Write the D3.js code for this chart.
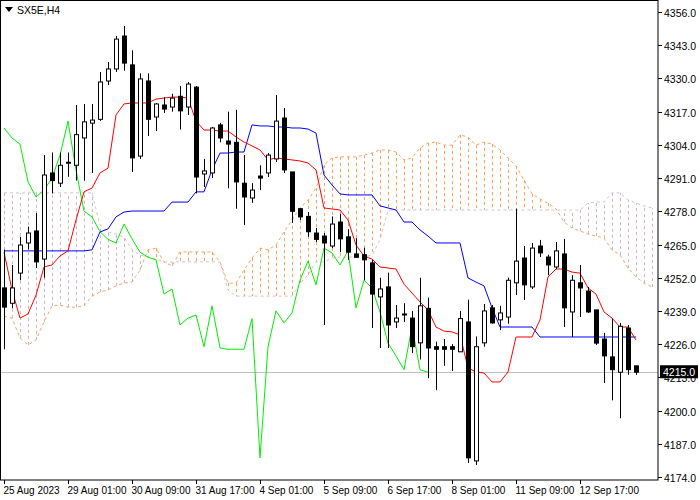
<!DOCTYPE html>
<html><head><meta charset="utf-8">
<script src="https://cdn.jsdelivr.net/npm/d3@7"></script>
<style>body{margin:0;background:#fff}svg{display:block}</style>
</head><body>
<script>
const opens=[4248,4242,4253.8,4265.6,4270.3,4259.3,4293,4289,4297,4296,4306.7,4312.5,4314,4329,4333.7,4346.6,4335.3,4299.6,4329,4314.9,4319.6,4318.8,4323,4318.8,4326.6,4292.6,4293,4311.8,4305.5,4305,4289,4283.2,4291.8,4293,4298.5,4314.5,4293.4,4279,4276,4269.5,4268.3,4264.4,4273.8,4268,4261.3,4261,4257.8,4244.5,4248.4,4234.7,4237.8,4236.2,4226.5,4240,4225,4225,4225,4223,4234.7,4180.3,4226.5,4240.2,4235.5,4236.6,4250,4259.7,4248.4,4264.4,4260.1,4256.2,4261.3,4238.6,4250,4246.8,4239.4,4228,4221,4215,4232.3,4217.5];
const closes=[4240.5,4248,4264.8,4269.5,4258.2,4292.2,4290,4296,4297.2,4308,4313,4313.7,4328.6,4333.7,4345.4,4336,4298.9,4329.8,4314,4320,4318,4322.3,4317.3,4327.8,4291.4,4293.8,4310.6,4306.7,4304.3,4289.5,4283.6,4286.3,4291,4300,4313.3,4294.2,4278,4275.8,4270,4267,4265.6,4273,4267.2,4262,4260,4259,4245.6,4247.6,4233.5,4236.2,4237.4,4225,4241,4224.5,4224,4224,4224,4236,4181.5,4225,4239,4234.3,4238.2,4251,4258.5,4249.2,4263.6,4261.7,4257,4262.5,4240.2,4251,4248,4238.6,4226.4,4221.4,4216,4233,4216,4215];
const highs=[4263,4257,4268,4272,4277.3,4300,4301,4301,4301,4319.6,4320,4320,4332.5,4336.4,4346.6,4350.5,4341,4332,4332,4320.4,4322.7,4324,4327,4328.6,4327,4298.5,4311,4312.6,4317,4317.7,4300,4289,4296,4300.8,4323.5,4318.4,4293.4,4279.3,4277.7,4271.5,4269.5,4276,4277,4271,4267.5,4263.7,4259,4252,4254,4241.3,4242,4239,4252,4244.2,4227,4228,4226,4239,4243.4,4229,4241.7,4241.3,4241,4252,4279,4264.4,4265.6,4266.8,4261,4266,4267.2,4253,4257,4248.4,4239.4,4230.4,4236,4234.3,4233.5,4217.5];
const lows=[4224,4240,4251,4263,4255.8,4252,4285,4287.5,4291.5,4290,4290,4293,4313.4,4327.4,4332.5,4333,4293.4,4298.5,4307.5,4309.4,4316.5,4317,4310,4315.7,4285,4287.5,4291,4305,4287,4279,4272.6,4281.3,4286.3,4291.4,4297.3,4293,4273.4,4274.6,4268,4266,4233.5,4263.6,4262,4259,4259.7,4251,4232.3,4224.5,4224.5,4232.3,4234.7,4222.5,4220,4212.7,4208,4217.5,4215.5,4223,4179.5,4178.7,4225,4234,4231.5,4234,4245.2,4243.3,4247.6,4260.1,4253,4255.4,4232.7,4228.8,4236.6,4238.2,4225.7,4210.8,4204,4197,4214,4214];
const tenkan=[4262.1,4247.2,4236.2,4237.8,4245.2,4256.2,4257.0,4260.5,4262.5,4274.6,4285.6,4287.1,4293.0,4294.9,4315.7,4320.0,4320.4,4320.4,4320.4,4321.9,4322.3,4322.7,4322.7,4322.3,4313.3,4309.8,4309.8,4309.4,4309.4,4307.1,4305.1,4303.6,4302.0,4298.1,4298.9,4298.5,4298.1,4297.7,4296.9,4294.2,4279.3,4278.9,4278.5,4274.6,4264.8,4260.5,4259.3,4256.2,4255.8,4255.4,4249.5,4246.0,4242.5,4239.4,4232.7,4231.1,4230.8,4229.6,4216.7,4215.1,4214.7,4211.2,4211.2,4215.1,4228.8,4228.8,4228.8,4235.5,4252.3,4255.4,4255.4,4254.2,4253.8,4248.0,4245.6,4238.6,4236.2,4232.7,4232.7,4227.6];
const kijun=[4262.5,4262.5,4262.5,4262.5,4262.5,4262.5,4262.5,4262.5,4262.5,4262.5,4262.5,4262.9,4269.9,4271.1,4275.8,4277.7,4278.1,4278.1,4278.1,4278.1,4278.1,4281.6,4281.6,4281.6,4285.6,4285.6,4294.2,4300.8,4300.8,4301.2,4301.2,4311.8,4311.4,4311.4,4311.0,4311.0,4310.6,4310.6,4310.2,4308.6,4292.2,4288.3,4284.8,4284.4,4284.4,4284.4,4284.4,4280.1,4279.3,4278.5,4273.8,4273.8,4270.7,4268.3,4265.6,4265.6,4265.6,4265.6,4251.9,4250.3,4248.8,4240.2,4232.7,4232.7,4232.7,4232.7,4232.7,4228.8,4228.8,4228.8,4228.8,4228.8,4228.8,4228.8,4228.8,4228.8,4228.8,4228.8,4228.8,4228.8];
const spanA=[4237.0,4236.2,4228.4,4225.7,4227.6,4234.7,4241.0,4241.3,4240.5,4240.5,4241.0,4244.8,4246.4,4247.2,4248.8,4249.9,4250.3,4255.0,4262.9,4263.6,4258.2,4256.6,4262.1,4262.1,4262.1,4262.1,4262.1,4258.2,4249.9,4249.9,4255.0,4259.7,4263.6,4262.9,4264.8,4269.9,4274.6,4279.3,4282.4,4287.1,4296.1,4298.9,4299.3,4299.3,4299.3,4300.0,4300.8,4302.0,4302.0,4301.2,4298.1,4298.9,4302.8,4304.7,4305.1,4303.9,4303.9,4307.9,4307.1,4303.9,4305.1,4304.3,4302.0,4298.9,4295.7,4290.2,4284.8,4282.8,4281.2,4278.9,4273.8,4271.5,4270.3,4269.1,4268.3,4267.5,4262.9,4260.9,4255.8,4252.3,4249.9,4248.4];
const spanB=[4285.2,4285.2,4285.2,4285.2,4285.2,4285.2,4285.2,4285.2,4285.2,4285.2,4285.2,4285.2,4272.6,4269.9,4269.1,4267.9,4262.9,4260.9,4260.1,4259.3,4258.2,4258.2,4258.2,4258.2,4258.2,4258.2,4258.2,4258.2,4247.2,4244.8,4244.8,4244.8,4244.8,4244.8,4244.8,4244.8,4244.8,4249.9,4253.1,4258.2,4258.2,4259.7,4260.1,4260.1,4260.1,4260.1,4260.9,4266.8,4278.5,4278.5,4278.5,4278.5,4278.5,4278.5,4278.5,4278.5,4278.5,4278.5,4278.5,4278.5,4278.5,4278.5,4278.5,4278.5,4278.5,4278.5,4278.5,4278.5,4278.5,4278.5,4278.5,4278.5,4278.5,4281.2,4281.6,4281.6,4285.2,4285.2,4282.4,4281.2,4280.1,4279.3];
const chikouShift=26;
const priceTicks=[4356,4343,4330,4317,4304,4291,4278,4265,4252,4239,4226,4213,4200,4187,4174];
const timeLabels=["25 Aug 2023","29 Aug 01:00","30 Aug 09:00","31 Aug 17:00","4 Sep 01:00","5 Sep 09:00","6 Sep 17:00","8 Sep 01:00","11 Sep 09:00","12 Sep 17:00"];
const lastPrice=4215.0;

const W=700,H=500,PR=658,PB=480;
const svg=d3.select("body").append("svg").attr("width",W).attr("height",H)
  .style("font-family","'Liberation Sans',Arial,sans-serif");
const x=d3.scaleLinear().domain([0,81]).range([4,652]);
const y=d3.scaleLinear().domain([4174,4356]).range([477,12]);
const g=svg.append("g");
svg.append("defs").append("clipPath").attr("id","c").append("rect").attr("x",0).attr("y",0).attr("width",PR).attr("height",PB);
g.attr("clip-path","url(#c)");

// cloud hatching
spanA.forEach((a,i)=>{
  const b=spanB[i];
  g.append("line").attr("x1",Math.round(x(i))+0.5).attr("x2",Math.round(x(i))+0.5)
   .attr("y1",y(a)).attr("y2",y(b))
   .attr("stroke",a>=b?"#f4a460":"#c8b6c8").attr("stroke-dasharray","3,3").attr("stroke-width",1);
});
const ln=(arr,off=0)=>d3.line().x((d,i)=>x(i+off)).y(d=>y(d))(arr);
g.append("path").attr("d",ln(spanB)).attr("fill","none").attr("stroke","#d8bfd8").attr("stroke-dasharray","3,3");
g.append("path").attr("d",ln(spanA)).attr("fill","none").attr("stroke","#f4a460").attr("stroke-dasharray","3,3");
// last price line
g.append("line").attr("x1",0).attr("x2",PR).attr("y1",Math.round(y(lastPrice))+0.5).attr("y2",Math.round(y(lastPrice))+0.5).attr("stroke","#c0c0c0");
// chikou
g.append("path").attr("d",ln(closes.slice(chikouShift),0)).attr("fill","none").attr("stroke","#00ee00");
g.append("path").attr("d",ln(kijun)).attr("fill","none").attr("stroke","#0000ff");
g.append("path").attr("d",ln(tenkan)).attr("fill","none").attr("stroke","#ff0000");

// candles
opens.forEach((o,i)=>{
  const c=closes[i],cx=Math.round(x(i))+0.5;
  g.append("line").attr("x1",cx).attr("x2",cx).attr("y1",y(highs[i])).attr("y2",y(lows[i])).attr("stroke","#000");
  const top=y(Math.max(o,c)),bot=y(Math.min(o,c));
  g.append("rect").attr("x",cx-2).attr("y",top).attr("width",4).attr("height",Math.max(1,bot-top))
   .attr("fill",c>=o?"#fff":"#000").attr("stroke","#000");
});

// frame
svg.append("rect").attr("x",0.5).attr("y",0.5).attr("width",PR-0.5).attr("height",PB-0.5).attr("fill","none").attr("stroke","#000");
// price axis
priceTicks.forEach(t=>{
  const yy=Math.round(y(t))+0.5;
  svg.append("line").attr("x1",PR).attr("x2",PR+4).attr("y1",yy).attr("y2",yy).attr("stroke","#000");
  svg.append("text").attr("x",PR+6).attr("y",yy+4).attr("font-size",10.5).text(t.toFixed(1));
});
const ly=y(lastPrice);
svg.append("rect").attr("x",PR+2).attr("y",ly-7).attr("width",38).attr("height",13).attr("fill","#000");
svg.append("text").attr("x",PR+5).attr("y",ly+4).attr("font-size",10.5).attr("fill","#fff").text(lastPrice.toFixed(1));
// time axis
timeLabels.forEach((t,k)=>{
  const xx=Math.round(x(k*8))+0.5;
  svg.append("line").attr("x1",xx).attr("x2",xx).attr("y1",PB).attr("y2",PB+4).attr("stroke","#000");
  svg.append("text").attr("x",xx-1).attr("y",PB+14).attr("font-size",10).text(t);
});
// title
svg.append("path").attr("d","M5,7 L13,7 L9,12 Z").attr("fill","#000");
svg.append("text").attr("x",17).attr("y",14).attr("font-size",10.5).text("SX5E,H4");
</script>
</body></html>
